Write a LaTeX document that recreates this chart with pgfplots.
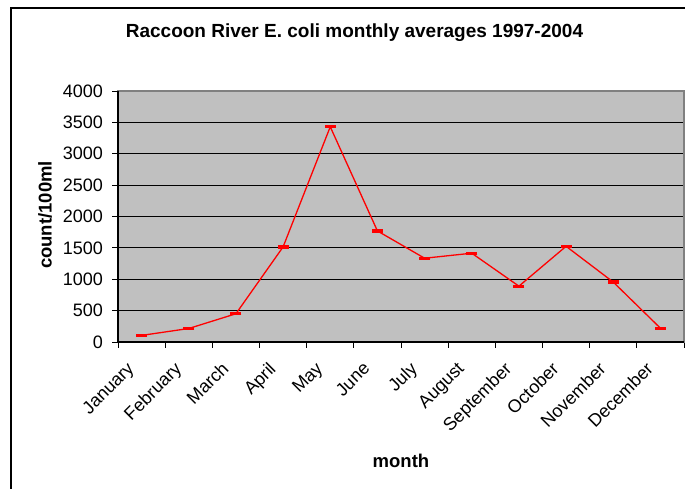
\documentclass[border=0pt]{standalone}
\usepackage{pgfplots}
\pgfplotsset{compat=1.18}
\usepackage{fontspec}
\setmainfont{Liberation Sans}
\definecolor{plotbg}{RGB}{192,192,192}
\definecolor{bordergray}{RGB}{128,128,128}
\begin{document}
\begin{tikzpicture}[x=1pt,y=1pt]
\useasboundingbox (0,0) rectangle (685,489);
\draw[line width=1.3pt] (11,-20) -- (11,481) -- (700,481);
\node[font=\fontsize{19}{22}\selectfont\bfseries] at (354.5,456) {Raccoon River E. coli monthly averages 1997-2004};
\node[font=\fontsize{18.5}{22}\selectfont\bfseries, rotate=90] at (45,274) {count/100ml};
\node[font=\fontsize{18.5}{22}\selectfont\bfseries] at (401,28) {month};
\begin{axis}[
  at={(118pt,147pt)}, anchor=south west,
  scale only axis, width=566pt, height=251pt,
  xmin=-0.5, xmax=11.5, ymin=0, ymax=4000,
  ytick={0,500,...,4000},
  xtick={0,...,11},
  xticklabels={January,February,March,April,May,June,July,August,September,October,November,December},
  minor xtick={-0.5,0.5,...,11.5},
  major x tick style={draw=none},
  tick align=outside, tick pos=left,
  major tick length=6pt, minor tick length=6pt,
  tick style={black, line width=0.9pt},
  ymajorgrids, grid style={black, line width=0.9pt},
  axis background/.style={fill=plotbg},
  axis line style={draw=bordergray, line width=1.4pt},
  ticklabel style={font=\fontsize{18}{21}\selectfont},
  /pgf/number format/assume math mode=true,
  scaled y ticks=false,
  yticklabel style={/pgf/number format/1000 sep={}, anchor=east, inner sep=0pt, xshift=-9pt},
  xticklabel style={rotate=45, anchor=north east, inner sep=0pt, xshift=-20pt, yshift=2pt},
  clip=false,
]
\addplot[red, line width=1.3pt, mark=-, mark size=5.5pt, mark options={line width=3.2pt}]
 coordinates {(0,105) (1,215) (2,450) (3,1515) (4,3430) (5,1770) (6,1335) (7,1415) (8,890) (9,1525) (10,955) (11,220)};
\draw[black, line width=1.4pt] (rel axis cs:0,1) -- (rel axis cs:0,0) -- (rel axis cs:1,0);
\end{axis}
\end{tikzpicture}
\end{document}
